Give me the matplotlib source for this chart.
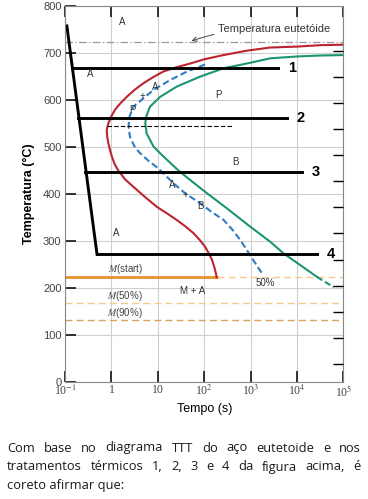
import numpy as np
import matplotlib.pyplot as plt
import matplotlib as mpl

mpl.rcParams['mathtext.fontset'] = 'stix'

# curve points: (log10 of time in s, temperature in C)
red_logt = [5.0, 4.5, 4.0, 3.42, 2.9, 2.42, 2.0, 1.7, 1.4, 1.12, 0.9, 0.69, 0.5,
            0.33, 0.2, 0.08, 0.0, -0.065, -0.1, -0.09, -0.065, -0.03, 0.01, 0.07,
            0.15, 0.3, 0.47, 0.7, 0.98, 1.2, 1.41, 1.6, 1.77, 1.9, 2.02, 2.1,
            2.17, 2.22, 2.26, 2.27]
red_T = [717, 716, 713, 711, 704, 695, 686, 677, 669, 660, 648, 635, 621,
         606, 593, 579, 565, 550, 536, 521, 507, 493, 479, 463,
         449, 430, 415, 395, 372, 358, 344, 330, 316, 302, 287, 273,
         259, 243, 227, 222]

green_logt = [5.0, 4.5, 4.0, 3.42, 2.92, 2.42, 1.91, 1.41, 1.05, 0.83, 0.75, 0.73,
              0.76, 0.91, 1.05, 1.2, 1.45, 1.75, 2.06, 2.5, 2.99, 3.42, 3.71,
              4.1, 4.43]
green_T = [695, 694, 692, 688, 677, 667, 649, 628, 606, 585, 564, 550,
           528, 500, 486, 472, 449, 425, 401, 368, 330, 298, 273,
           246, 223]
green_dash_logt = [4.43, 4.79]
green_dash_T = [223, 201]

blue_logt = [2.02, 1.63, 1.27, 0.91, 0.69, 0.47, 0.39, 0.37, 0.4, 0.5, 0.6,
             0.8, 1.01, 1.34, 1.6, 1.91, 2.15, 2.42, 2.62, 2.78, 2.92, 3.05,
             3.16, 3.27]
blue_T = [675, 660, 642, 621, 603, 585, 564, 543, 521, 500, 488,
          470, 454, 422, 400, 380, 362, 344, 322, 301, 280, 260,
          243, 227]

cool_logt = [-0.96, -0.31]
cool_T = [757, 271]
hold_T = [667, 562, 447, 271]
hold_start = [-0.85, -0.72, -0.57, -0.31]
hold_end = [3.6, 3.79, 4.11, 4.44]
hold_names = ['1', '2', '3', '4']

T_eut = 723
T_ms, T_m50, T_m90 = 223, 167, 131
ms_end_logt = 2.27

y_ticks = [0, 100, 200, 300, 400, 500, 600, 700, 800]
x_ticks = [0.1, 1, 10, 100, 1e3, 1e4, 1e5]
x_labels = ['10$^{-1}$', '1', '10', '10$^{2}$', '10$^{3}$', '10$^{4}$', '10$^{5}$']
F_ticks = [100, 200, 300, 400, 500, 600, 700, 800, 900, 1000, 1100, 1200, 1300]

par_lines = ['Com base no diagrama TTT do aço eutetoide e nos',
             'tratamentos térmicos 1, 2, 3 e 4 da figura acima, é',
             'coreto afirmar que:']

red = '#bc2430'
green = '#1b9474'
blue = '#2f7bc4'
orange = '#e8912a'
light_or = '#f7c98c'
tan = '#d9a25e'

fig = plt.figure(figsize=(3.68, 4.99), dpi=100)
W, H = 368, 499
ax = fig.add_axes([65/W, 1-381.7/H, 278.4/W, 376/H])
ax.set_xscale('log')
ax.set_xlim(0.1, 1e5)
ax.set_ylim(0, 800)

ax.grid(True, color='#cfcfcf', lw=0.8)
ax.set_axisbelow(True)
ax.minorticks_off()
ax.set_xticks(x_ticks)
ax.set_xticklabels(x_labels, family='Liberation Serif', fontsize=8.5, color='#444444')
ax.set_yticks(y_ticks)
ax.set_yticklabels([str(v) for v in y_ticks], family='Liberation Sans', fontsize=8, color='#444444')
ax.tick_params(direction='in', length=8, width=1.1, top=True, right=False, pad=2.5)
ax.tick_params(axis='x', pad=1.5)
for s in ax.spines.values():
    s.set_color('#888888')
    s.set_linewidth(0.8)

ax2 = ax.twinx()
ax2.set_ylim(0, 800)
ax2.set_yticks([(f - 32) * 5 / 9 for f in F_ticks])
ax2.set_yticklabels([])
ax2.tick_params(direction='in', length=7, width=1.0)
for s in ax2.spines.values():
    s.set_visible(False)

lt = lambda v: 10 ** np.array(v)

# eutectoid line
ax.plot([0.1, 1e5], [T_eut, T_eut], color='#999999', lw=0.9, dashes=(6, 2, 1, 2))
ax.annotate('Temperatura eutetóide', xy=(lt(1.7), T_eut + 1), xytext=(lt(2.3), 750),
            fontsize=8, family='Liberation Sans', color='#333333', va='center',
            arrowprops=dict(arrowstyle='->', color='#444444', lw=0.7,
                            connectionstyle='arc3,rad=0.1', shrinkA=1, shrinkB=1))

# martensite lines
ax.plot([0.1, lt(ms_end_logt)], [T_ms, T_ms], color=orange, lw=2)
ax.plot([lt(ms_end_logt), 1e5], [T_ms, T_ms], color=light_or, lw=1, dashes=(5, 3))
ax.plot([0.1, 1e5], [T_m50, T_m50], color=light_or, lw=1, dashes=(5, 3))
ax.plot([0.1, 1e5], [T_m90, T_m90], color=tan, lw=1, dashes=(5, 3))

# transformation curves
ax.plot(lt(red_logt), red_T, color=red, lw=1.5, solid_joinstyle='round')
ax.plot(lt(green_logt), green_T, color=green, lw=1.5, solid_joinstyle='round')
ax.plot(lt(green_dash_logt), green_dash_T, color=green, lw=1.5, dashes=(3, 1.5))
ax.plot(lt(blue_logt), blue_T, color=blue, lw=1.5, dashes=(3.2, 1.6))

# 540 C dashed
ax.plot([lt(-0.1), lt(2.6)], [543, 543], color='black', lw=0.8, dashes=(4, 2))

# cooling paths
ax.plot(lt(cool_logt), cool_T, color='black', lw=2.1)
for T, a, b, n in zip(hold_T, hold_start, hold_end, hold_names):
    ax.plot([lt(a), lt(b)], [T, T], color='black', lw=2.1)
    ax.text(lt(b + 0.2), T, n, fontsize=10.5, fontweight='bold',
            family='Liberation Sans', ha='left', va='center')

lab = dict(fontsize=7, family='Liberation Sans', color='#333333', ha='center', va='center')
ax.text(lt(0.23), 765, 'A', **lab)
ax.text(lt(-0.46), 654, 'A', **lab)
ax.text(lt(0.94), 628, 'A', **lab)
ax.text(lt(0.66), 607, '+', **lab)
ax.text(lt(0.45), 579, 'P', **lab)
ax.text(lt(2.3), 609, 'P', **lab)
ax.text(lt(2.67), 468, 'B', **lab)
ax.text(lt(1.31), 418, 'A', **lab)
ax.text(lt(1.6), 397, '+', **lab)
ax.text(lt(1.91), 373, 'B', **lab)
ax.text(lt(0.1), 317, 'A', **lab)
ax.text(lt(1.76), 193, 'M + A', **lab)
ax.text(lt(3.32), 210, '50%', **lab)
mlab = dict(fontsize=7, family='Liberation Sans', color='#444444', ha='center', va='center')
ax.text(lt(0.3), 240, '$\\mathit{M}$(start)', **mlab)
ax.text(lt(0.3), 182, '$\\mathit{M}$(50%)', **mlab)
ax.text(lt(0.3), 146, '$\\mathit{M}$(90%)', **mlab)

ax.set_xlabel('Tempo (s)', fontsize=9, family='Liberation Sans', labelpad=3)
ax.set_ylabel('Temperatura (°C)', fontsize=9, family='Liberation Sans', fontweight='bold', labelpad=6)

# justified paragraph below the chart
fs = 9.3
x0, x1 = 7 / W, 361 / W
ys = [448, 467, 485]
renderer = fig.canvas.get_renderer()
for i, (line, yp) in enumerate(zip(par_lines, ys)):
    y = 1 - yp / H
    if i == len(par_lines) - 1:
        fig.text(x0, y, line, fontsize=fs, family='Open Sans', color='#1a1a1a', va='center')
        continue
    words = line.split()
    ts = [fig.text(0, y, w, fontsize=fs, family='Open Sans', color='#1a1a1a', va='center')
          for w in words]
    widths = [t.get_window_extent(renderer).width / fig.bbox.width for t in ts]
    gap = ((x1 - x0) - sum(widths)) / (len(words) - 1)
    x = x0
    for t, w in zip(ts, widths):
        t.set_x(x)
        x += w + gap

fig.savefig('out.png', dpi=100)
